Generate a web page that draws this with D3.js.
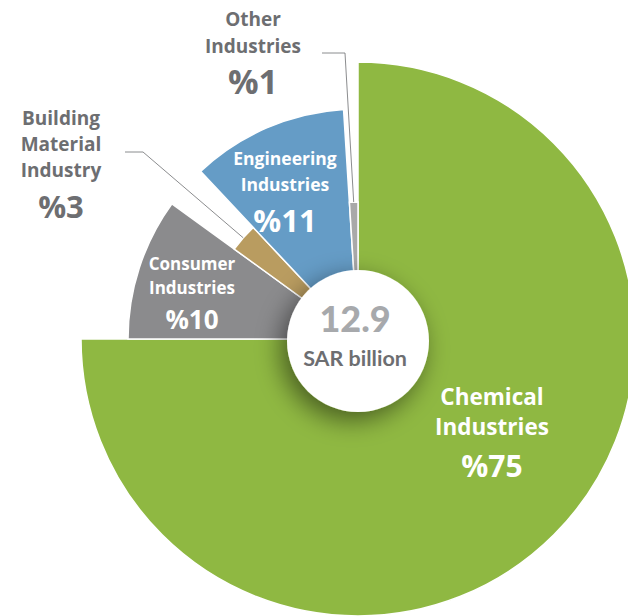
<!DOCTYPE html>
<html>
<head>
<meta charset="utf-8">
<script src="https://cdn.jsdelivr.net/npm/d3@7"></script>
<style>
  body { margin: 0; background: #fff; }
  svg { display: block; }
  .lbl { font-family: "Open Sans", sans-serif; font-weight: 700; }
</style>
</head>
<body>
<div id="chart"></div>
<script>
// slices, clockwise from 12 o'clock
const categories = ["Chemical Industries", "Consumer Industries", "Building Material Industry", "Engineering Industries", "Other Industries"];
const shares = [75, 10, 3, 11, 1];
const labelLines = [["Chemical", "Industries"], ["Consumer", "Industries"], ["Building", "Material", "Industry"], ["Engineering", "Industries"], ["Other", "Industries"]];
const totalValue = "12.9";
const totalUnit = "SAR billion";

const width = 628, height = 616;
const cx = 358, cy = 339;

const colorScale = d3.scaleOrdinal().domain(categories)
    .range(["#8fb842", "#8b8b8d", "#b99c60", "#659cc6", "#a9a9a9"]);
// each slice has its own outer radius
const radiusScale = d3.scaleOrdinal().domain(categories)
    .range([277, 230, 153, 230, 137]);

// label layout: x, baseline of first line, line step, name size, pct size, pct gap, colour
const labelLayout = {
  "Chemical Industries":        {x: 492, y: 405, step: 30, fs: 22.5, ps: 30, gap: 42, fill: "#fff"},
  "Consumer Industries":        {x: 192, y: 270, step: 24, fs: 17, ps: 26, gap: 35, fill: "#fff"},
  "Building Material Industry": {x: 61,  y: 125, step: 26, fs: 19, ps: 31, gap: 41, fill: "#6d6e71"},
  "Engineering Industries":     {x: 285, y: 165, step: 26, fs: 17.5, ps: 31, gap: 41, fill: "#fff"},
  "Other Industries":           {x: 253, y: 26,  step: 27, fs: 19, ps: 34, gap: 41, fill: "#6d6e71"}
};

const svg = d3.select("#chart").append("svg")
    .attr("width", width).attr("height", height);

const defs = svg.append("defs");
const shadow = defs.append("filter").attr("id", "shadow")
    .attr("x", "-60%").attr("y", "-60%").attr("width", "220%").attr("height", "220%");
shadow.append("feGaussianBlur").attr("in", "SourceAlpha").attr("stdDeviation", 13);
shadow.append("feOffset").attr("dx", -6).attr("dy", 8).attr("result", "blur");
shadow.append("feComponentTransfer").append("feFuncA").attr("type", "linear").attr("slope", 0.5);
const merge = shadow.append("feMerge");
merge.append("feMergeNode");
merge.append("feMergeNode").attr("in", "SourceGraphic");

const g = svg.append("g").attr("transform", `translate(${cx},${cy})`);

const data = categories.map((c, i) => ({name: c, value: shares[i], lines: labelLines[i]}));
const pie = d3.pie().sort(null).value(d => d.value);
const arcs = pie(data);
const arc = d3.arc().innerRadius(0).outerRadius(d => radiusScale(d.data.name));

g.selectAll("path.slice").data(arcs).enter().append("path")
    .attr("class", "slice")
    .attr("d", arc)
    .attr("fill", d => colorScale(d.data.name))
    .attr("stroke", "#fff")
    .attr("stroke-width", 1.5);

// leader lines for the outside labels
function edgePoint(d, extra) {
  const a = (d.startAngle + d.endAngle) / 2;
  const r = radiusScale(d.data.name) + extra;
  return [cx + r * Math.sin(a), cy - r * Math.cos(a)];
}
const other = arcs[4], building = arcs[2];
const pOther = edgePoint(other, 0);
const pBuild = edgePoint(building, 0);
const leaders = [
  [[322, 53], [345, 53], pOther],
  [[125, 152], [143, 152], pBuild]
];
svg.selectAll("path.leader").data(leaders).enter().append("path")
    .attr("class", "leader")
    .attr("d", d3.line())
    .attr("fill", "none")
    .attr("stroke", "#6d6e71")
    .attr("stroke-width", 0.8);

// centre disc
svg.append("circle")
    .attr("cx", cx).attr("cy", cy + 2).attr("r", 71)
    .attr("fill", "#fff")
    .attr("filter", "url(#shadow)");
svg.append("text").text(totalValue)
    .attr("x", cx - 3).attr("y", 332)
    .attr("text-anchor", "middle")
    .attr("font-family", "Lato, sans-serif").attr("font-weight", 900)
    .attr("font-size", 36).attr("fill", "#a7a9ac");
svg.append("text").text(totalUnit)
    .attr("x", cx - 3).attr("y", 366)
    .attr("text-anchor", "middle")
    .attr("font-family", "Lato, sans-serif").attr("font-weight", 700)
    .attr("font-size", 21.5).attr("fill", "#6d6e71");

// slice labels
const labels = svg.selectAll("g.label").data(data).enter().append("g")
    .attr("class", "label");
labels.each(function(d) {
  const L = labelLayout[d.name];
  const sel = d3.select(this);
  d.lines.forEach((t, i) => {
    sel.append("text").attr("class", "lbl").text(t)
        .attr("x", L.x).attr("y", L.y + i * L.step)
        .attr("text-anchor", "middle")
        .attr("font-size", L.fs).attr("fill", L.fill);
  });
  sel.append("text").attr("class", "lbl").text("%" + d.value)
      .attr("x", L.x).attr("y", L.y + (d.lines.length - 1) * L.step + L.gap)
      .attr("text-anchor", "middle")
      .attr("font-size", L.ps).attr("fill", L.fill);
});
</script>
</body>
</html>
